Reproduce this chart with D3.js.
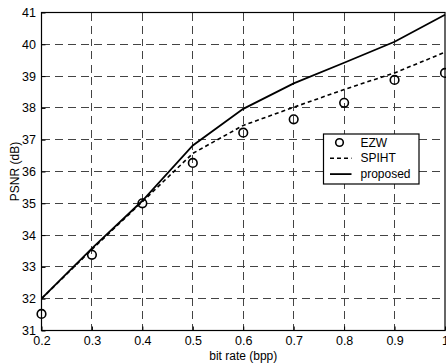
<!DOCTYPE html>
<html>
<head>
<meta charset="utf-8">
<script src="https://cdn.jsdelivr.net/npm/d3@7"></script>
<style>
  body { margin: 0; background: #fff; }
  text { font-family: "Liberation Sans", Arial, sans-serif; fill: #000; }
</style>
</head>
<body>
<div id="root"></div>
<script>
const bitRates = [0.2, 0.3, 0.4, 0.5, 0.6, 0.7, 0.8, 0.9, 1.0];
const ezw = [31.52, 33.38, 35.0, 36.27, 37.22, 37.64, 38.16, 38.88, 39.1];
const spiht = [32.0, 33.55, 35.05, 36.57, 37.45, 38.02, 38.58, 39.1, 39.75];
const proposed = [32.0, 33.58, 35.08, 36.82, 37.97, 38.77, 39.42, 40.08, 40.93];
const xTicks = [0.2, 0.3, 0.4, 0.5, 0.6, 0.7, 0.8, 0.9, 1];
const yTicks = [31, 32, 33, 34, 35, 36, 37, 38, 39, 40, 41];
const legendItems = [
  { text: "EZW", type: "marker" },
  { text: "SPIHT", type: "dashed" },
  { text: "proposed", type: "solid" }
];

const CONFIG = {
  width: 446,
  height: 363,
  plot: { left: 41.5, right: 445, top: 12.5, bottom: 330.5 },
  font: 12.5,
  gridColor: "#444",
  gridDash: "8,5",
  seriesDash: "4,3"
};

function drawChart() {
  const svg = d3.select("#root")
    .append("svg")
    .attr("width", CONFIG.width)
    .attr("height", CONFIG.height);

  const { left, right, top, bottom } = CONFIG.plot;

  const x = d3.scaleLinear().domain([0.2, 1.0]).range([left, right]);
  const y = d3.scaleLinear().domain([31, 41]).range([bottom, top]);
  const crisp = v => Math.round(v - 0.5) + 0.5;

  // grid
  const grid = svg.append("g")
    .attr("stroke", CONFIG.gridColor)
    .attr("stroke-width", 1)
    .attr("stroke-dasharray", CONFIG.gridDash)
    .attr("shape-rendering", "crispEdges");

  xTicks.slice(1, -1).forEach(d => {
    grid.append("line")
      .attr("x1", crisp(x(d))).attr("x2", crisp(x(d)))
      .attr("y1", top).attr("y2", bottom);
  });

  yTicks.slice(1, -1).forEach(d => {
    grid.append("line")
      .attr("x1", left).attr("x2", right)
      .attr("y1", crisp(y(d))).attr("y2", crisp(y(d)));
  });

  // axes (inward ticks)
  const xAxis = svg.append("g")
    .attr("transform", `translate(0,${bottom})`)
    .call(d3.axisBottom(x).tickValues(xTicks).tickSize(-4).tickPadding(5.5)
      .tickFormat(d => d === 1 ? "1" : d3.format(".1f")(d)));
  const yAxis = svg.append("g")
    .attr("transform", `translate(${left},0)`)
    .call(d3.axisLeft(y).tickValues(yTicks).tickSize(-4).tickPadding(5.5));

  [xAxis, yAxis].forEach(g => {
    g.select(".domain").remove();
    g.selectAll("line").attr("stroke", "#000").attr("stroke-width", 1);
    g.selectAll("text")
      .style("font-family", "Liberation Sans, Arial, sans-serif")
      .style("font-size", CONFIG.font + "px")
      .attr("fill", "#000");
  });

  // box
  svg.append("rect")
    .attr("x", left).attr("y", top)
    .attr("width", right - left).attr("height", bottom - top)
    .attr("fill", "none")
    .attr("stroke", "#000")
    .attr("stroke-width", 1.2);

  // series
  const line = d3.line().x((d, i) => x(bitRates[i])).y(d => y(d));

  svg.append("path")
    .datum(spiht)
    .attr("d", line)
    .attr("fill", "none")
    .attr("stroke", "#000")
    .attr("stroke-width", 1.6)
    .attr("stroke-dasharray", CONFIG.seriesDash);

  svg.append("path")
    .datum(proposed)
    .attr("d", line)
    .attr("fill", "none")
    .attr("stroke", "#000")
    .attr("stroke-width", 1.8);

  svg.append("g")
    .selectAll("circle")
    .data(ezw)
    .join("circle")
    .attr("cx", (d, i) => x(bitRates[i]))
    .attr("cy", d => y(d))
    .attr("r", 4.3)
    .attr("fill", "none")
    .attr("stroke", "#000")
    .attr("stroke-width", 1.6);

  // axis labels
  svg.append("text")
    .text("bit rate (bpp)")
    .attr("x", (left + right) / 2)
    .attr("y", 359.5)
    .attr("text-anchor", "middle")
    .style("font-size", "12px");

  svg.append("text")
    .text("PSNR (dB)")
    .attr("transform", `translate(18.5,${(top + bottom) / 2}) rotate(-90)`)
    .attr("text-anchor", "middle")
    .style("font-size", "12px");

  // legend
  const legendBox = { x: 323.5, y: 134, w: 95.5, h: 50 };
  svg.append("rect")
    .attr("x", legendBox.x).attr("y", legendBox.y)
    .attr("width", legendBox.w).attr("height", legendBox.h)
    .attr("fill", "#fff")
    .attr("stroke", "#000")
    .attr("stroke-width", 1.2);

  const legend = svg.append("g")
    .selectAll("g")
    .data(legendItems)
    .join("g")
    .attr("transform", (d, i) => `translate(${legendBox.x},${legendBox.y + 8.5 + i * 15.8})`);

  legend.filter(d => d.type === "marker")
    .append("circle")
    .attr("cx", 16).attr("cy", 0).attr("r", 3.8)
    .attr("fill", "none").attr("stroke", "#000").attr("stroke-width", 1.6);

  legend.filter(d => d.type !== "marker")
    .append("line")
    .attr("x1", 6.5).attr("x2", 28).attr("y1", 0).attr("y2", 0)
    .attr("stroke", "#000")
    .attr("stroke-width", d => d.type === "solid" ? 1.8 : 1.6)
    .attr("stroke-dasharray", d => d.type === "dashed" ? CONFIG.seriesDash : null);

  legend.append("text")
    .text(d => d.text)
    .attr("x", 37)
    .attr("y", 0)
    .attr("dominant-baseline", "central")
    .style("font-size", "12px");
}

drawChart();
</script>
</body>
</html>
